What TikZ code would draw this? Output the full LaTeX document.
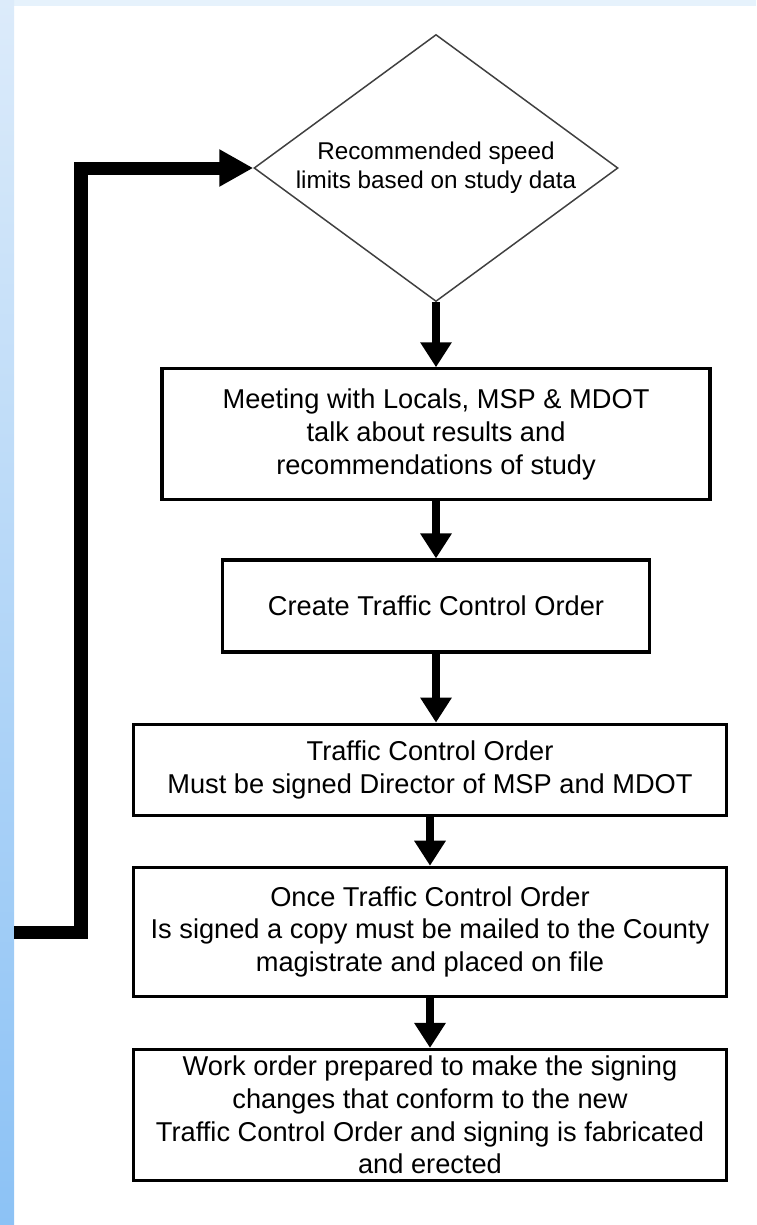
\documentclass[tikz,border=0pt]{standalone}
\usepackage{fontspec}
\setmainfont{Liberation Sans}
\usetikzlibrary{positioning, arrows.meta, shapes.geometric}
\definecolor{bandblue}{HTML}{E6F2FC}
\definecolor{striptop}{HTML}{DCEBFA}
\definecolor{stripbot}{HTML}{8CC2F5}

\begin{document}
\begin{tikzpicture}[
        D/.style = {draw, black!75, text=black, diamond, aspect=1.36, line width=0.85pt, minimum width=7.28cm, minimum height=5.34cm, inner sep=0pt, align=center, font=\fontsize{13.8}{16.5}\selectfont},
        B/.style = {draw, black, line width=1.8pt, inner sep=2pt, align=center, font=\fontsize{15.5}{18.6}\selectfont},
        arrow/.style = {-{Triangle[length=0.5cm, width=0.6cm]}, line width=5.1pt},
        feedback/.style = {-{Triangle[length=0.68cm, width=0.7cm]}, line width=7.4pt}
    ]
        \useasboundingbox (0,0) rectangle (15.12,-24.5);
        \fill[bandblue] (0,0) rectangle (15.12,-0.12);
        \shade[top color=striptop, bottom color=stripbot] (0,0) rectangle (0.28,-24.5);
        \node[D] (Rec) at (8.72,-3.36) {Recommended speed\\limits based on study data};
        \node[B, minimum width=10.96cm, minimum height=2.62cm, below=1.3cm of Rec] (Meet) {Meeting with Locals, MSP \& MDOT\\talk about results and\\recommendations of study};
        \node[B, minimum width=8.54cm, minimum height=1.84cm, below=1.14cm of Meet] (Create) {Create Traffic Control Order};
        \node[B, minimum width=11.86cm, minimum height=1.82cm, below=1.38cm of Create, xshift=-0.12cm] (TCO) {Traffic Control Order\\Must be signed Director of MSP and MDOT};
        \node[B, minimum width=11.86cm, minimum height=2.58cm, below=0.98cm of TCO] (Copy) {Once Traffic Control Order\\Is signed a copy must be mailed to the County\\magistrate and placed on file};
        \node[B, minimum width=11.86cm, minimum height=2.62cm, below=1.0cm of Copy] (Work) {Work order prepared to make the signing\\changes that conform to the new\\Traffic Control Order and signing is fabricated\\and erected};
        \coordinate (loopstart) at (0.28,-18.64);
        \coordinate (loopturn) at (1.62,-18.64);
        \draw[arrow] (Rec) -- (Meet);
        \draw[arrow] (Meet) -- (Create);
        \draw[arrow] (Create.south) -- (Create.south |- TCO.north);
        \draw[arrow] (TCO) -- (Copy);
        \draw[arrow] (Copy) -- (Work);
        \draw[feedback] (loopstart) -- (loopturn) |- (Rec.west);
    \end{tikzpicture}
\end{document}
